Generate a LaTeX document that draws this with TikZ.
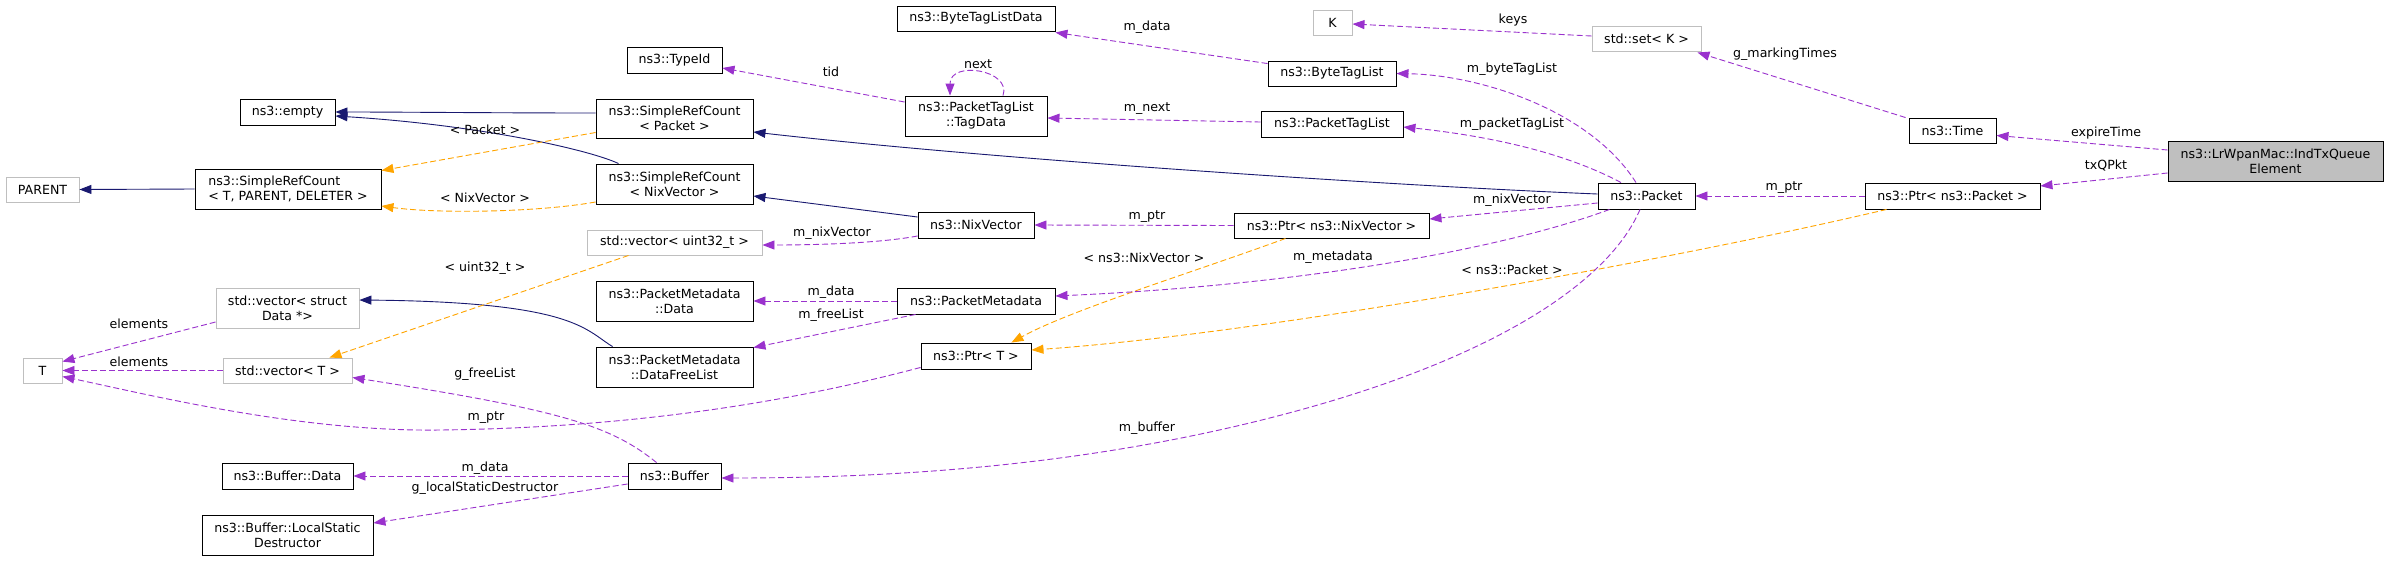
\documentclass[tikz,border=0pt]{standalone}
\usepackage{fontspec}
\newfontfamily\dvs{DejaVu Sans}
\usetikzlibrary{arrows.meta,calc}
\definecolor{navy}{HTML}{191970}
\definecolor{purp}{HTML}{9A32CD}
\definecolor{orng}{HTML}{FFA500}
\definecolor{boxgray}{HTML}{BFBFBF}
\newcommand{\lab}{\dvs\fontsize{12.6}{15}\selectfont}
\tikzset{
  cls/.style={draw=black, line width=0.9pt, inner sep=0pt, align=center, font=\lab, fill=white},
  gcls/.style={cls, draw=boxgray},
  lbl/.style={inner sep=0pt, font=\lab},
  tip/.style={-{Triangle[length=12pt,width=9pt]}},
  inh/.style={draw=navy, line width=0.9pt, tip},
  use/.style={draw=purp, line width=0.9pt, dash pattern=on 6pt off 3pt, tip},
  tmpl/.style={draw=orng, line width=0.9pt, dash pattern=on 6pt off 3pt, tip},
}
\begin{document}
\begin{tikzpicture}[x=1pt,y=-1pt]
\fill[white] (0,0) rectangle (2389,560);
\useasboundingbox (0,0) rectangle (2389,560);

% ---- nodes ----
\node[gcls, minimum width=73pt, minimum height=25pt] (PARENT) at (42.5,189.5) {PARENT};
\node[cls, align=left, minimum width=186pt, minimum height=40pt] (SRCT) at (288,189) {ns3::SimpleRefCount\\< T, PARENT, DELETER >};
\node[cls, minimum width=95pt, minimum height=26pt] (empty) at (287.5,112) {ns3::empty};
\node[cls, minimum width=157pt, minimum height=39pt] (SRCP) at (674.5,118.5) {ns3::SimpleRefCount\\< Packet >};
\node[cls, minimum width=157pt, minimum height=40pt] (SRCN) at (674.5,184) {ns3::SimpleRefCount\\< NixVector >};
\node[cls, minimum width=95pt, minimum height=26pt] (TypeId) at (674.5,60) {ns3::TypeId};
\node[cls, minimum width=158pt, minimum height=25pt] (BTLD) at (976,18.5) {ns3::ByteTagListData};
\node[cls, minimum width=142pt, minimum height=40pt] (TagData) at (976,116) {ns3::PacketTagList\\::TagData};
\node[cls, minimum width=116pt, minimum height=26pt] (NixVector) at (976,225) {ns3::NixVector};
\node[gcls, minimum width=175pt, minimum height=25pt] (vecU) at (674.5,242.5) {std::vector< uint32\_t >};
\node[gcls, minimum width=143pt, minimum height=40pt] (vecS) at (287.5,308) {std::vector< struct\\Data *>};
\node[gcls, minimum width=39pt, minimum height=25pt] (T) at (42.5,370.5) {T};
\node[gcls, minimum width=129pt, minimum height=25pt] (vecT) at (287.5,370.5) {std::vector< T >};
\node[cls, minimum width=131pt, minimum height=26pt] (BufData) at (287.5,476) {ns3::Buffer::Data};
\node[cls, minimum width=171pt, minimum height=40pt] (LSD) at (287.5,535) {ns3::Buffer::LocalStatic\\Destructor};
\node[cls, minimum width=157pt, minimum height=40pt] (PMData) at (674.5,301) {ns3::PacketMetadata\\::Data};
\node[cls, minimum width=157pt, minimum height=40pt] (PMFree) at (674.5,367) {ns3::PacketMetadata\\::DataFreeList};
\node[cls, minimum width=158pt, minimum height=26pt] (PM) at (976,301) {ns3::PacketMetadata};
\node[cls, minimum width=110pt, minimum height=26pt] (PtrT) at (976,356) {ns3::Ptr< T >};
\node[cls, minimum width=93pt, minimum height=26pt] (Buffer) at (674.5,476) {ns3::Buffer};
\node[gcls, minimum width=39pt, minimum height=25pt] (K) at (1332.5,22.5) {K};
\node[gcls, minimum width=109pt, minimum height=25pt] (setK) at (1646.5,38.5) {std::set< K >};
\node[cls, minimum width=128pt, minimum height=25pt] (BTL) at (1332,73.5) {ns3::ByteTagList};
\node[cls, minimum width=142pt, minimum height=26pt] (PTL) at (1332,124) {ns3::PacketTagList};
\node[cls, minimum width=97pt, minimum height=26pt] (Packet) at (1646.5,196) {ns3::Packet};
\node[cls, minimum width=195pt, minimum height=25pt] (PtrNix) at (1331.5,225.5) {ns3::Ptr< ns3::NixVector >};
\node[cls, minimum width=87pt, minimum height=25pt] (Time) at (1952.5,130.5) {ns3::Time};
\node[cls, minimum width=175pt, minimum height=26pt] (PtrPacket) at (1952.5,196) {ns3::Ptr< ns3::Packet >};
\node[cls, fill=boxgray, minimum width=215pt, minimum height=40pt] (Main) at (2275.5,161) {ns3::LrWpanMac::IndTxQueue\\Element};

% ---- inheritance ----
\draw[inh] (SRCT.west) -- (PARENT.east);
\draw[inh] ($(SRCP.west)+(0,-5.5)$) .. controls (500,113) and (400,112) .. (empty.east);
\draw[inh] ($(SRCN.north west)+(23,0)$) .. controls (590,150) and (480,125) .. ($(empty.east)+(0,4)$);
\draw[inh] ($(Packet.west)+(0,-2)$) .. controls (1400,186) and (1000,160) .. ($(SRCP.east)+(0,13.5)$);
\draw[inh] ($(NixVector.west)+(0,-8)$) -- ($(SRCN.east)+(0,12)$);
\draw[inh] ($(PMFree.north west)+(17,0)$) .. controls (585,330) and (575,302) .. ($(vecS.east)+(0,-8)$);

% ---- template instantiation ----
\draw[tmpl] ($(SRCP.west)+(0,14)$) -- ($(SRCT.north east)+(0,2)$);
\draw[tmpl] ($(SRCN.west)+(0,18)$) .. controls (540,212) and (440,214) .. ($(SRCT.east)+(0,17)$);
\draw[tmpl] ($(vecU.south west)+(42,0)$) -- ($(vecT.north east)+(-23,0)$);
\draw[tmpl] ($(PtrNix.south)+(-46,0)$) .. controls (1200,270) and (1070,310) .. ($(PtrT.north east)+(-20,0)$);
\draw[tmpl] ($(PtrPacket.south west)+(22,0)$) .. controls (1650,265) and (1250,335) .. ($(PtrT.east)+(0,-6)$);

% ---- usage ----
\draw[use] ($(vecS.west)+(0,14)$) -- ($(T.north east)+(0,4)$);
\draw[use] (vecT.west) -- (T.east);
\draw[use] ($(PtrT.south west)+(0,-2)$) .. controls (760,410) and (600,428) .. (440,430) .. controls (300,432) and (150,395) .. ($(T.east)+(0,6)$);
\draw[use] ($(Buffer.north west)+(29,0)$) .. controls (610,425) and (560,410) .. ($(vecT.east)+(0,7)$);
\draw[use] (Buffer.west) -- (BufData.east);
\draw[use] ($(Buffer.west)+(0,8)$) -- ($(LSD.east)+(0,-12)$);
\draw[use] (PM.west) -- (PMData.east);
\draw[use] ($(PM.south west)+(19,0)$) -- ($(PMFree.north east)+(0,1)$);
\draw[use] ($(NixVector.west)+(0,11)$) .. controls (880,243) and (820,245) .. ($(vecU.east)+(0,2.5)$);
\draw[use] ($(TagData.west)+(0,-14)$) -- ($(TypeId.east)+(0,8)$);
\draw[use] ($(TagData.north)+(27,0)$) .. controls (1012,70) and (950,60) .. ($(TagData.north)+(-26,0)$);
\draw[use] ($(BTL.north west)+(0,3)$) -- ($(BTLD.east)+(0,14)$);
\draw[use] ($(PTL.west)+(0,-2)$) -- ($(TagData.east)+(0,2)$);
\draw[use] (PtrNix.west) -- (NixVector.east);
\draw[use] ($(setK.west)+(0,-2.5)$) -- ($(K.east)+(0,1.5)$);
\draw[use] ($(Time.north west)+(-3,0)$) -- ($(setK.south east)+(-4,1)$);
\draw[use] ($(Packet.north)+(-10.5,0)$) .. controls (1590,110) and (1480,75) .. (BTL.east);
\draw[use] ($(Packet.north)+(-25.5,0)$) .. controls (1560,150) and (1480,135) .. ($(PTL.east)+(0,3)$);
\draw[use] ($(Packet.west)+(0,7)$) -- ($(PtrNix.east)+(0,-6.5)$);
\draw[use] ($(Packet.south west)+(12,0)$) .. controls (1500,250) and (1300,285) .. ($(PM.east)+(0,-5)$);
\draw[use] ($(Packet.south)+(-6.5,0)$) .. controls (1610,280) and (1500,355) .. (1300,410) .. controls (1100,465) and (900,478) .. ($(Buffer.east)+(0,2)$);
\draw[use] (PtrPacket.west) -- (Packet.east);
\draw[use] ($(Main.west)+(0,-11)$) -- ($(Time.east)+(0,5)$);
\draw[use] ($(Main.west)+(0,12)$) -- ($(PtrPacket.east)+(0,-10)$);

% ---- edge labels ----
\node[lbl] (l1) at (485,130) {< Packet >};
\node[lbl] (l2) at (485,198) {< NixVector >};
\node[lbl] (l3) at (485,268) {< uint32\_t >};
\node[lbl] (l4) at (139,324) {elements};
\node[lbl] (l5) at (139,362) {elements};
\node[lbl] (l6) at (486,418) {m\_ptr};
\node[lbl] (l7) at (485,374) {g\_freeList};
\node[lbl] (l8) at (485,468) {m\_data};
\node[lbl] (l9) at (485,488) {g\_localStaticDestructor};
\node[lbl] (l10) at (831,292) {m\_data};
\node[lbl] (l11) at (831,315) {m\_freeList};
\node[lbl] (l12) at (832,233) {m\_nixVector};
\node[lbl] (l13) at (831,72) {tid};
\node[lbl] (l14) at (978,64) {next};
\node[lbl] (l15) at (1147,27) {m\_data};
\node[lbl] (l16) at (1147,109) {m\_next};
\node[lbl] (l17) at (1147,217) {m\_ptr};
\node[lbl] (l18) at (1144,258) {< ns3::NixVector >};
\node[lbl] (l19) at (1513,20) {keys};
\node[lbl] (l20) at (1785,54) {g\_markingTimes};
\node[lbl] (l21) at (1512,69) {m\_byteTagList};
\node[lbl] (l22) at (1512,124) {m\_packetTagList};
\node[lbl] (l23) at (1512,200) {m\_nixVector};
\node[lbl] (l24) at (1333,257) {m\_metadata};
\node[lbl] (l25) at (1512,270) {< ns3::Packet >};
\node[lbl] (l26) at (1147,428) {m\_buffer};
\node[lbl] (l27) at (1784,188) {m\_ptr};
\node[lbl] (l28) at (2106,133) {expireTime};
\node[lbl] (l29) at (2106,166) {txQPkt};
\end{tikzpicture}
\end{document}
